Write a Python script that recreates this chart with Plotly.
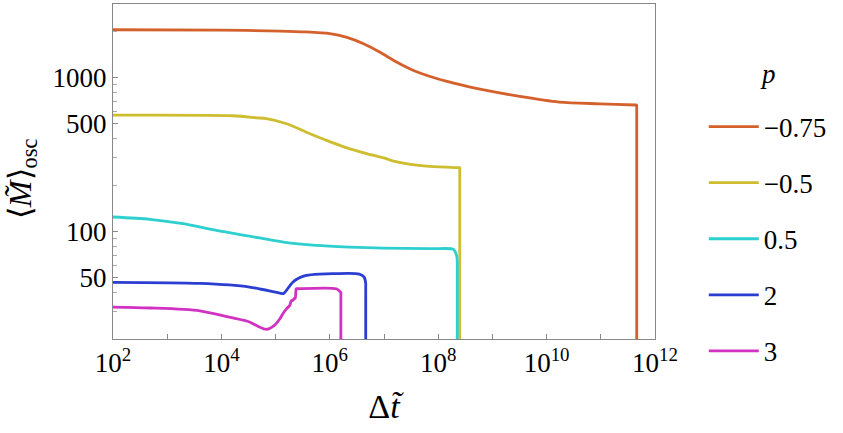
import plotly.graph_objects as go

# ---- data ----
p_labels = ["\u22120.75", "\u22120.5", "0.5", "2", "3"]
colors = ["#D4602C", "#CDBD2F", "#2ECFCF", "#2B3ED2", "#D232C2"]

x_m075 = [1e2, 1e4, 1.2e5, 3.5e5, 1e6, 2.0e6, 4.2e6, 8.3e6, 1.7e7, 3.5e7, 7.1e7,
          1.45e8, 2.9e8, 5.9e8, 3.2e9, 1.7e10, 9.5e10, 4.4e11, 4.6e11, 4.6e11,
          4.6e11, 4.6e11]
y_m075 = [2040, 2030, 2000, 1975, 1923, 1828, 1656, 1462, 1259, 1110, 1014,
          942, 887, 839, 753, 692, 674, 662, 661, 655, 20, 1]

x_m05 = [1e2, 1.6e4, 4.5e4, 6.8e4, 1.6e5, 3.7e5, 8.7e5, 2.0e6, 4.8e6, 1.1e7,
         1.5e7, 6.9e7, 2.4e8, 2.5e8, 2.5e8, 2.5e8, 2.5e8]
y_m05 = [569, 564, 547, 540, 500, 441, 390, 350, 320, 297, 286, 264, 259.2, 259,
         256, 20, 1]

x_05 = [1e2, 4.8e2, 1.95e3, 8.1e3, 3.3e4, 1.4e5, 5.6e5, 2.3e6, 9.5e6, 6.9e7,
        1.8e8, 1.95e8, 2.2e8, 2.25e8, 2.25e8, 2.25e8, 2.25e8]
y_05 = [124, 119.7, 112.2, 101.5, 93.1, 85.2, 81.1, 79.1, 77.9, 77.2,
        77.1, 76.0, 69.0, 62.0, 58.0, 20, 1]

x_2 = [1e2, 4e3, 3.3e4, 1.2e5, 1.4e5, 1.8e5, 2.1e5, 2.75e5, 3.7e5, 6.5e5,
       1.15e6, 3.5e6, 4.3e6, 4.6e6, 4.6e6, 4.6e6, 4.6e6]
y_2 = [46.7, 45.9, 43.5, 39.7, 39.5, 44.0, 46.9, 49.9, 51.8, 52.8, 53.1, 52.8,
       50.5, 46.0, 44.0, 20, 1]

x_3 = [1e2, 4.8e2, 4.0e3, 1.4e4, 3.3e4, 4.7e4, 6.8e4, 9.5e4, 1.2e5, 1.38e5,
       1.6e5, 1.82e5, 1.95e5, 2.1e5, 2.2e5, 2.3e5, 2.4e5, 2.5e5, 1.32e6, 1.57e6,
       1.6e6, 1.6e6, 1.6e6, 1.6e6]
y_3 = [32.2, 31.8, 30.5, 27.7, 25.8, 24.2, 23.1, 24.5, 27.1, 29.4,
       31.5, 33.0, 35.4, 35.7, 36.7, 36.7, 42.4, 42.4, 42.4, 40.4, 40.0, 38.0, 20, 1]

x_tickvals = [1e2, 1e4, 1e6, 1e8, 1e10, 1e12]
x_ticktext = ["10<sup>2</sup>", "10<sup>4</sup>", "10<sup>6</sup>",
              "10<sup>8</sup>", "10<sup>10</sup>", "10<sup>12</sup>"]
x_minor = [1e3, 1e5, 1e7, 1e9, 1e11]
y_tickvals = [50, 100, 500, 1000]
y_ticktext = ["50", "100", "500", "1000"]
y_minor = [20, 30, 40, 60, 70, 80, 90, 200, 300, 400, 600, 700, 800, 900, 2000, 3000]

series = [(x_m075, y_m075), (x_m05, y_m05), (x_05, y_05), (x_2, y_2), (x_3, y_3)]

SERIF = "Liberation Serif"

fig = go.Figure()
for (xs, ys), lab, col in zip(series, p_labels, colors):
    fig.add_trace(go.Scatter(x=xs, y=ys, mode="lines", name=lab, legendgroup=lab,
                             line=dict(color=col, width=2.8, shape="spline", smoothing=0.8)))

axis_common = dict(
    type="log", showgrid=False, zeroline=False, showline=True, linecolor="#888888",
    linewidth=1, mirror=True, ticks="inside", tickcolor="#888888",
    tickfont=dict(family=SERIF, size=27, color="black"),
)

fig.update_xaxes(
    **axis_common, range=[2, 12], tickmode="array", tickvals=x_tickvals,
    ticktext=x_ticktext, ticklen=5,
    minor=dict(tickvals=x_minor, ticklen=5, tickcolor="#888888", ticks="inside"),
    title=dict(text="\u0394<i>t\u0303</i>", font=dict(family=SERIF, size=34, color="black"),
               standoff=16),
)
fig.update_yaxes(
    **axis_common, range=[1.301, 3.477], tickmode="array", tickvals=y_tickvals,
    ticktext=y_ticktext, ticklen=5,
    minor=dict(tickvals=y_minor, ticklen=4, tickcolor="#aaaaaa", ticks="inside"),
)

fig.update_layout(
    width=843, height=433,
    margin=dict(l=113, r=188, t=4, b=94),
    paper_bgcolor="white", plot_bgcolor="white",
    showlegend=True,
    legend=dict(x=1.09, y=0.706, xanchor="left", yanchor="top", itemwidth=50,
                font=dict(family=SERIF, size=27, color="black"),
                tracegroupgap=18, bgcolor="rgba(0,0,0,0)"),
    annotations=[
        dict(text="<i>p</i>", xref="paper", yref="paper",
             x=1.208, y=0.79, xanchor="center", yanchor="middle",
             showarrow=False, font=dict(family=SERIF, size=27, color="black")),
        dict(text="\u27e8<i>M\u0303</i>\u27e9<sub>osc</sub>", xref="paper", yref="paper",
             x=-0.168, y=0.48, xanchor="center", yanchor="middle", textangle=-90,
             showarrow=False, font=dict(family=SERIF, size=32, color="black")),
    ],
)

fig.write_html("out.html", config={"displayModeBar": False},
               post_script="document.body.style.margin='0';")
